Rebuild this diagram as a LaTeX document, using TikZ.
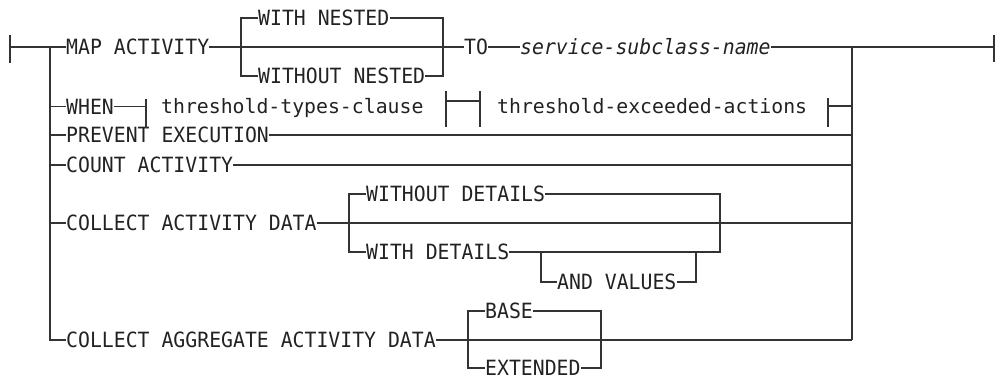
\documentclass[tikz,border=0pt]{standalone}
\usepackage{fontspec}
\newfontfamily\rrfont{DejaVu Sans Mono}[ItalicFont={DejaVu Sans Mono Oblique}]
\newfontfamily\kwfont{DejaVu Sans Mono}[FakeStretch=0.943, ItalicFont={DejaVu Sans Mono Oblique}]
\definecolor{ln}{HTML}{333333}
\definecolor{txt}{HTML}{222222}
\begin{document}
\begin{tikzpicture}[x=1pt,y=-1pt,
  kw/.style={inner sep=0pt, anchor=west, text height=15.3pt, text depth=0pt,
             font=\kwfont\fontsize{21}{22}\selectfont, text=txt},
  var/.style={kw, font=\kwfont\itshape\fontsize{21}{22}\selectfont},
  ref/.style={inner sep=0pt, anchor=west, text height=14.4pt, text depth=0pt,
             font=\rrfont\fontsize{19.8}{20}\selectfont, text=txt},
  rail/.style={line width=1.2pt, draw=ln},
  fatdash/.style={line width=2.4pt, draw=ln}]
\useasboundingbox (0,0) rectangle (995,380);
% ---- end points and rails
\coordinate (s) at (10,47);
\coordinate (e) at (994,47);
\coordinate (L0) at (50,47);
\coordinate (Lb) at (50,340);
\coordinate (R0) at (852,47);
\coordinate (Rb) at (852,340);
% ---- texts
\node[kw] (map)  at (66,47)  {MAP ACTIVITY};
\node[kw] (wn)   at (258,18) {WITH NESTED};
\node[kw] (won)  at (258,76) {WITHOUT NESTED};
\node[kw] (to)   at (464,47) {TO};
\node[var] (ssn) at (520,47) {service-subclass-name};
\node[kw] (when) at (66,106.5) {WHEN};
\node[ref] (ttc) at (161,106) {threshold-types-clause};
\node[ref] (tea) at (497,106) {threshold-exceeded-actions};
\node[kw] (pe)   at (66,135) {PREVENT EXECUTION};
\node[kw] (ca)   at (66,165) {COUNT ACTIVITY};
\node[kw] (cad)  at (66,223) {COLLECT ACTIVITY DATA};
\node[kw] (wod)  at (366,194) {WITHOUT DETAILS};
\node[kw] (wd)   at (366,252) {WITH DETAILS};
\node[kw] (av)   at (557,282) {AND VALUES};
\node[kw] (caad) at (66,340) {COLLECT AGGREGATE ACTIVITY DATA};
\node[kw] (base) at (485,311) {BASE};
\node[kw] (ext)  at (485,368) {EXTENDED};
% ---- start / end bars
\draw[rail] (10,35) -- (10,63);
\draw[rail] (994,35) -- (994,62);
\draw[fatdash] (18,47) -- (25,47);
\draw[fatdash] (858,47) -- (880,47);
% ---- main line
\draw[rail] (s) -- (L0) -- (map.west);
\draw[rail] (map.east) -- (to.west);
\draw[rail] (to.east) -- (ssn.west);
\draw[rail] (ssn.east) -- (R0) -- (e);
% WITH / WITHOUT NESTED
\draw[rail] (wn.west) -- (241,18) -- (241,76) -- (won.west);
\draw[rail] (wn.east) -- (443,18) -- (443,76) -- (won.east);
% ---- left and right rails
\draw[rail] (L0) -- (Lb) -- (caad.west);
\draw[rail] (R0) -- (Rb);
% ---- WHEN row
\draw[rail] (50,106.5) -- (when.west);
\draw[rail] (when.east) -- (146,106.5);
\draw[rail] (146,99) -- (146,128);
\draw[rail] (446,101) -- (480,101);
\draw[rail] (446,91) -- (446,127);
\draw[rail] (480,91) -- (480,127);
\draw[rail] (828,98) -- (828,127);
\draw[rail] (828,106) -- (852,106);
% ---- PREVENT / COUNT
\draw[rail] (50,135) -- (pe.west);
\draw[rail] (pe.east) -- (852,135);
\draw[rail] (50,165) -- (ca.west);
\draw[rail] (ca.east) -- (852,165);
% ---- COLLECT ACTIVITY DATA
\draw[rail] (50,223) -- (cad.west);
\draw[rail] (cad.east) -- (852,223);
\draw[rail] (wod.west) -- (349,194) -- (349,252) -- (wd.west);
\draw[rail] (wod.east) -- (720,194) -- (720,252) -- (wd.east);
\draw[rail] (541,252) -- (541,282) -- (av.west);
\draw[rail] (av.east) -- (696,282) -- (696,252);
% ---- COLLECT AGGREGATE ACTIVITY DATA
\draw[rail] (caad.east) -- (Rb);
\draw[rail] (base.west) -- (468,311) -- (468,368) -- (ext.west);
\draw[rail] (base.east) -- (601,311) -- (601,368) -- (ext.east);
\end{tikzpicture}
\end{document}
